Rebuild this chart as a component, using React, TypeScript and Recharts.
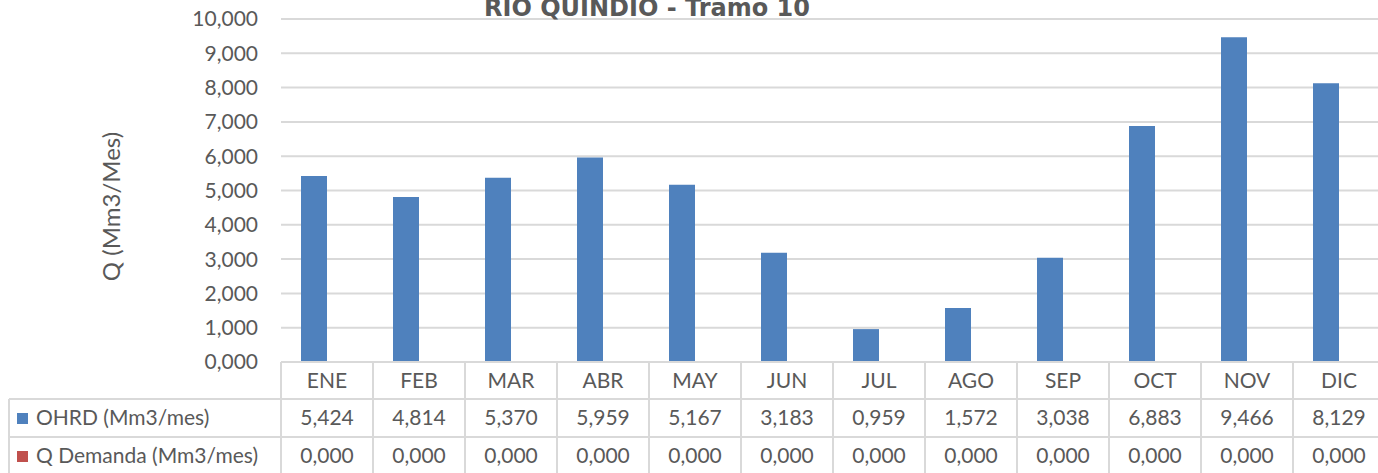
import { BarChart, Bar, XAxis, YAxis, CartesianGrid } from "recharts";

const months = ["ENE", "FEB", "MAR", "ABR", "MAY", "JUN", "JUL", "AGO", "SEP", "OCT", "NOV", "DIC"];
const ohrd = [5.424, 4.814, 5.37, 5.959, 5.167, 3.183, 0.959, 1.572, 3.038, 6.883, 9.466, 8.129];
const qDemanda = [0, 0, 0, 0, 0, 0, 0, 0, 0, 0, 0, 0];
const yTicks = [0, 1, 2, 3, 4, 5, 6, 7, 8, 9, 10];

const seriesNames = ["OHRD (Mm3/mes)", "Q Demanda (Mm3/mes)"];
const seriesColors = ["#4F81BD", "#C0504D"];

const chartData = months.map((m, i) => ({ name: m, ohrd: ohrd[i], qDemanda: qDemanda[i] }));

const W = 1385;
const H = 473;
const plotLeft = 281;
const plotTop = 19;
const plotBottom = 362;
const cellW = (W - plotLeft) / months.length;
const rowTops = [0, 37, 75];
const rowH = [37, 38, 38];

const FONT = "Lato, 'Open Sans', sans-serif";
const TXT = "#595959";
const LINE = "#d9d9d9";

const fmt = (v: number) => v.toFixed(3).replace(".", ",");

function TableTick(props: any) {
  const { x, payload } = props;
  const i = payload.index;
  const top = plotBottom;
  const left = x - cellW / 2;
  const right = x + cellW / 2;
  const rowVals = [payload.value, fmt(ohrd[i]), fmt(qDemanda[i])];
  return (
    <g>
      <line x1={left} x2={left} y1={top} y2={H + 5} stroke={LINE} strokeWidth={2} />
      <line x1={right} x2={right} y1={top} y2={H + 5} stroke={LINE} strokeWidth={2} />
      {rowTops.map((t, r) => (
        <line key={r} x1={left} x2={right} y1={top + t} y2={top + t} stroke={LINE} strokeWidth={2} />
      ))}
      {rowVals.map((v, r) => (
        <text
          key={"t" + r}
          x={x}
          y={top + rowTops[r] + rowH[r] / 2 + 7}
          textAnchor="middle"
          fill={TXT}
          fontSize={21}
          fontFamily={FONT}
        >
          {v}
        </text>
      ))}
      {i === 0 && (
        <g>
          <line x1={9} x2={9} y1={top + rowTops[1]} y2={H + 5} stroke={LINE} strokeWidth={2} />
          {[1, 2].map((r) => (
            <line key={"h" + r} x1={9} x2={left} y1={top + rowTops[r]} y2={top + rowTops[r]} stroke={LINE} strokeWidth={2} />
          ))}
          {seriesNames.map((s, k) => (
            <g key={s}>
              <rect x={17} y={top + rowTops[k + 1] + rowH[k + 1] / 2 - 5} width={11} height={11} fill={seriesColors[k]} />
              <text
                x={36}
                y={top + rowTops[k + 1] + rowH[k + 1] / 2 + 7}
                fill={TXT}
                fontSize={21}
                fontFamily={FONT}
              >
                {s}
              </text>
            </g>
          ))}
        </g>
      )}
    </g>
  );
}

export default function App() {
  return (
    <div
      style={{
        position: "absolute",
        left: 0,
        top: 0,
        width: 1378,
        height: H,
        overflow: "hidden",
        background: "#fff",
      }}
    >
      <BarChart
        width={W}
        height={H}
        data={chartData}
        margin={{ top: plotTop, right: 0, left: 0, bottom: 0 }}
        barGap={0}
        barSize={26}
      >
        <CartesianGrid vertical={false} stroke={LINE} strokeWidth={2} />
        <XAxis
          dataKey="name"
          height={H - plotBottom}
          axisLine={false}
          tickLine={false}
          tickSize={0}
          interval={0}
          tick={<TableTick />}
        />
        <YAxis
          width={plotLeft}
          domain={[0, 10]}
          ticks={yTicks}
          tickFormatter={fmt}
          axisLine={false}
          tickLine={false}
          tickSize={0}
          tickMargin={23}
          tick={{ fill: TXT, fontSize: 21, fontFamily: FONT }}
          label={{
            value: "Q (Mm3/Mes)",
            angle: -90,
            position: "insideLeft",
            offset: 111,
            dy: 16,
            fill: TXT,
            fontSize: 24,
            fontFamily: FONT,
            style: { textAnchor: "middle" },
          }}
        />
        <Bar dataKey="ohrd" fill={seriesColors[0]} isAnimationActive={false} />
        <Bar dataKey="qDemanda" fill={seriesColors[1]} isAnimationActive={false} />
      </BarChart>
      <div
        style={{
          position: "absolute",
          left: 0,
          top: -6,
          width: 1294,
          textAlign: "center",
          fontFamily: "'DejaVu Sans', sans-serif",
          fontWeight: "bold",
          fontSize: 24,
          lineHeight: "28px",
          color: TXT,
          whiteSpace: "nowrap",
        }}
      >
        RIO QUINDIO - Tramo 10
      </div>
    </div>
  );
}
